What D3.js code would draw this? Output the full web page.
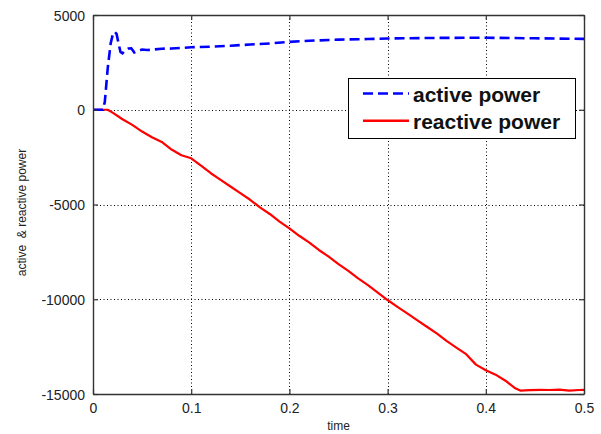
<!DOCTYPE html>
<html><head><meta charset="utf-8">
<script src="https://cdn.jsdelivr.net/npm/d3@7/dist/d3.min.js"></script>
<style>
body{margin:0;background:#fff;}
svg{display:block;font-family:"Liberation Sans",Arial,sans-serif;}
</style></head>
<body><svg id="chart" width="601" height="434"></svg>
<script>
const xTicks = [0, 0.1, 0.2, 0.3, 0.4, 0.5];
const yTicks = [5000, 0, -5000, -10000, -15000];
const seriesNames = ["active power", "reactive power"];
const activeT = [0, 0.01, 0.012, 0.015, 0.018, 0.02, 0.022, 0.024, 0.026, 0.028, 0.03, 0.033, 0.036, 0.039, 0.042, 0.045, 0.05, 0.055, 0.06, 0.07, 0.08, 0.09, 0.1, 0.12, 0.14, 0.16, 0.18, 0.2, 0.22, 0.25, 0.28, 0.3, 0.35, 0.4, 0.45, 0.5];
const activeP = [0, 0, 400, 2200, 3500, 3950, 4120, 4000, 3500, 3050, 2980, 3150, 3230, 3240, 3020, 3080, 3180, 3150, 3170, 3220, 3230, 3260, 3300, 3330, 3380, 3440, 3500, 3580, 3640, 3700, 3730, 3760, 3790, 3800, 3770, 3740];
const reactiveT = [0, 0.01, 0.015, 0.02, 0.03, 0.04, 0.05, 0.06, 0.07, 0.08, 0.09, 0.1, 0.11, 0.12, 0.13, 0.14, 0.15, 0.16, 0.17, 0.18, 0.19, 0.2, 0.21, 0.22, 0.23, 0.24, 0.25, 0.26, 0.27, 0.28, 0.29, 0.3, 0.31, 0.32, 0.33, 0.34, 0.35, 0.36, 0.37, 0.38, 0.39, 0.4, 0.41, 0.42, 0.43, 0.435, 0.445, 0.455, 0.465, 0.475, 0.485, 0.495, 0.5];
const reactiveQ = [0, 0, 0, -150, -500, -800, -1150, -1450, -1700, -2100, -2400, -2560, -2950, -3350, -3700, -4050, -4400, -4750, -5150, -5500, -5900, -6260, -6650, -7000, -7400, -7750, -8150, -8500, -8900, -9250, -9650, -10040, -10400, -10750, -11100, -11450, -11800, -12200, -12550, -12900, -13450, -13750, -13980, -14300, -14700, -14820, -14800, -14780, -14790, -14770, -14820, -14790, -14780];

const svg = d3.select("#chart");
const L = 93, R = 584, T = 15, B = 394;
const x = d3.scaleLinear().domain([0, 0.5]).range([L, R]);
const y = d3.scaleLinear().domain([-15000, 5000]).range([B, T]);

// grid
const grid = svg.append("g").attr("stroke", "#000").attr("stroke-width", 1).attr("stroke-dasharray", "1,2.5");
grid.selectAll(".gx").data(xTicks.slice(1, -1)).join("line")
  .attr("x1", d => Math.round(x(d)) + 0.5).attr("x2", d => Math.round(x(d)) + 0.5)
  .attr("y1", T).attr("y2", B);
grid.selectAll(".gy").data(yTicks.slice(1, -1)).join("line")
  .attr("y1", d => Math.round(y(d)) + 0.5).attr("y2", d => Math.round(y(d)) + 0.5)
  .attr("x1", L).attr("x2", R);

// lines
const activeData = activeT.map((t, i) => [t, activeP[i]]);
const reactiveData = reactiveT.map((t, i) => [t, reactiveQ[i]]);
const line = d3.line().x(d => x(d[0])).y(d => y(d[1]));
svg.append("path").datum(reactiveData).attr("d", line)
  .attr("fill", "none").attr("stroke", "#ff0000").attr("stroke-width", 2.2).attr("stroke-linejoin", "round");
svg.append("path").datum(activeData).attr("d", line)
  .attr("fill", "none").attr("stroke", "#0000ff").attr("stroke-width", 2.6).attr("stroke-dasharray", "10,5");

// axes (MATLAB box, inward ticks)
const axCol = "#333";
const tl = 5;
const axBottom = d3.axisBottom(x).tickValues(xTicks).tickFormat(d3.format("")).tickSizeInner(-tl).tickSizeOuter(0).tickPadding(9);
const axLeft = d3.axisLeft(y).tickValues(yTicks).tickFormat(d => String(d)).tickSizeInner(-tl).tickSizeOuter(0).tickPadding(8);
const gB = svg.append("g").attr("transform", `translate(0,${B})`).call(axBottom);
const gL = svg.append("g").attr("transform", `translate(${L},0)`).call(axLeft);
const gT = svg.append("g").attr("transform", `translate(0,${T})`).call(d3.axisTop(x).tickValues(xTicks).tickFormat("").tickSizeInner(-tl).tickSizeOuter(0));
const gR = svg.append("g").attr("transform", `translate(${R},0)`).call(d3.axisRight(y).tickValues(yTicks).tickFormat("").tickSizeInner(-tl).tickSizeOuter(0));
[gB, gL, gT, gR].forEach(g => {
  g.select(".domain").attr("stroke", axCol).attr("stroke-width", 1.4);
  g.selectAll(".tick line").attr("stroke", axCol).attr("stroke-width", 1.2);
  g.selectAll("text").attr("fill", "#222").style("font-size", "14px").style("font-family", "'Liberation Sans',Arial,sans-serif");
});
gL.selectAll("text").attr("dy", "0.36em");

// axis labels
svg.append("text").attr("x", (L + R) / 2).attr("y", 430).attr("text-anchor", "middle")
  .style("font-size", "12px").attr("fill", "#222").text("time");
svg.append("text").attr("transform", `translate(26,${(T + B) / 2 + 8}) rotate(-90)`).attr("text-anchor", "middle")
  .style("font-size", "12px").style("white-space", "pre").attr("fill", "#222").text("active  & reactive power");

// legend
const lg = svg.append("g");
lg.append("rect").attr("x", 348.5).attr("y", 78.5).attr("width", 227).attr("height", 60)
  .attr("fill", "#fff").attr("stroke", "#000").attr("stroke-width", 1);
const legendColors = ["#0000ff", "#ff0000"];
const legendDash = ["10,5", null];
seriesNames.forEach((name, i) => {
  const ly = 93.5 + i * 27.3;
  lg.append("line").attr("x1", 363).attr("x2", 409).attr("y1", ly).attr("y2", ly)
    .attr("stroke", legendColors[i]).attr("stroke-width", 2.4).attr("stroke-dasharray", legendDash[i]);
  lg.append("text").attr("x", 413).attr("y", ly + 8.5).style("font-size", "21px").style("font-weight", "bold")
    .attr("fill", "#111").text(name);
});
</script></body></html>
